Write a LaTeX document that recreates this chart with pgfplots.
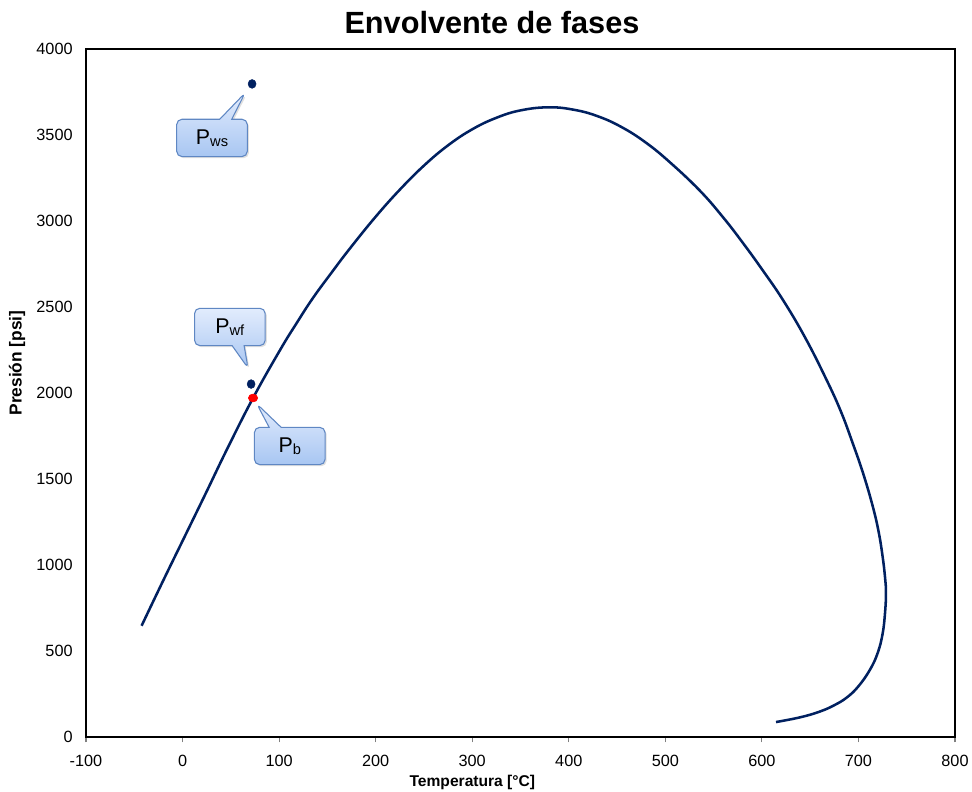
\documentclass[border=0pt]{standalone}
\usepackage{fontspec}
\setmainfont{Liberation Sans}
\usepackage{pgfplots}
\pgfplotsset{compat=1.18}
\usetikzlibrary{shapes.callouts,shadows,calc}

\definecolor{navy}{RGB}{0,32,96}
\definecolor{callborder}{RGB}{95,135,195}
\definecolor{calltop}{RGB}{226,236,253}
\definecolor{callbot}{RGB}{168,198,242}

\pgfplotstableread{
T P
-42.4 647
-20 910
4 1186
25 1428
45.7 1669
73 1971
101 2250
118 2405
135 2552
155 2705
173 2838
200 3025
225 3182
250 3322
275 3440
300 3533
325 3600
350 3643
378.8 3661
405 3647
430 3609
455 3545
480 3455
505 3340
536 3175
560 3020
580 2875
600 2720
621.8 2541
645 2320
667 2076
682 1890
694 1709
705 1530
715 1337
721 1190
725 1050
727.5 930
728.5 837
727.5 720
725 600
720 490
712 392
700 295
688 230
675 185
660 148
640 115
614.6 87
}\envolvente

\tikzset{
  globo/.style={rectangle callout, rounded corners=4pt, draw=callborder,
    line width=0.8pt, top color=calltop, bottom color=callbot,
    minimum width=53pt, minimum height=28pt, callout pointer width=9pt,
    drop shadow={opacity=0.25, shadow xshift=1.2pt, shadow yshift=-1.2pt},
    font=\fontsize{16}{18}\selectfont}
}
\newcommand{\Psub}[1]{P\raisebox{-0.2ex}{\fontsize{11}{11}\selectfont #1}}

\begin{document}
\begin{tikzpicture}
\begin{axis}[
  scale only axis, width=651.75pt, height=516pt,
  xmin=-100, xmax=800, ymin=0, ymax=4000,
  xtick distance=100, ytick distance=500,
  xtick pos=lower, ytick pos=left,
  tick align=outside, major tick length=4pt,
  x tick style={gray, line width=0.8pt},
  y tick style={draw=none},
  axis line style={black, line width=1pt},
  scaled ticks=false,
  /pgf/number format/1000 sep={},
  /pgf/number format/assume math mode=true,
  ticklabel style={font=\fontsize{12.2}{14}\selectfont},
  xticklabel style={yshift=-6pt},
  yticklabel style={xshift=-2.5pt},
  title={Envolvente de fases},
  title style={font=\bfseries\fontsize{23}{26}\selectfont, xshift=-21.4pt, yshift=2pt},
  clip=false,
]
\addplot[navy, line width=1.9pt, smooth, tension=0.7] table[x=T, y=P] {\envolvente};
\addplot[only marks, mark=*, mark size=3.3pt, mark options={fill=navy, draw=navy, xscale=0.9}]
  coordinates {(72,3797) (71,2052)};
\addplot[only marks, mark=*, mark size=3.5pt, mark options={fill=red, draw=red, yscale=0.85}]
  coordinates {(73,1971)};
\coordinate (sw) at (rel axis cs:0,0);
\coordinate (ne) at (rel axis cs:1,1);
\coordinate (ylab) at (rel axis cs:0,0.5436);
\coordinate (xlab) at (rel axis cs:0.4446,0);
\coordinate (ws-box) at (axis cs:30.5,3483);
\coordinate (ws-tip) at (axis cs:64.7,3744);
\coordinate (wf-box) at (axis cs:49,2384);
\coordinate (wf-tip) at (axis cs:67.8,2145);
\coordinate (b-box) at (axis cs:111,1692);
\coordinate (b-tip) at (axis cs:77,1936);
\end{axis}
\node[rotate=90, font=\bfseries\fontsize{13}{15}\selectfont] at ($(ylab)+(-51.75pt,0)$) {Presión [psi]};
\node[font=\bfseries\fontsize{11.7}{14}\selectfont] at ($(xlab)+(0,-34pt)$) {Temperatura [°C]};
\node[globo, callout absolute pointer={(ws-tip)}] at (ws-box) {\Psub{ws}};
\node[globo, callout absolute pointer={(wf-tip)}] at (wf-box) {\Psub{wf}};
\node[globo, callout absolute pointer={(b-tip)}] at (b-box) {\Psub{b}};
\pgfresetboundingbox
\path[use as bounding box] ($(sw)+(-64.5pt,-40.5pt)$) rectangle ($(ne)+(12.75pt,36.75pt)$);
\end{tikzpicture}
\end{document}
